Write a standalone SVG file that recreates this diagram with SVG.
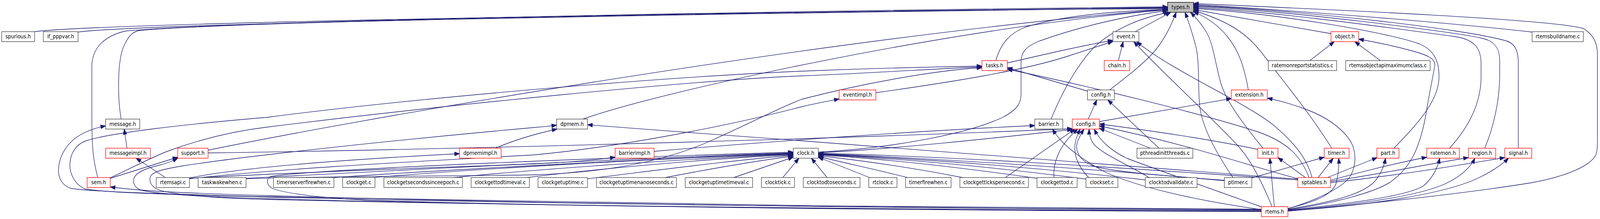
<svg xmlns="http://www.w3.org/2000/svg" width="4372" height="560" viewBox="0 0 4372 560">
<defs>
<style>
.node rect{fill:#ffffff;stroke:#404040;stroke-width:1.33}
.node.trunc rect{stroke:#ff0000}
.node.root rect{fill:#bfbfbf;stroke:#000000}
.node text{font-family:"DejaVu Sans","Liberation Sans",sans-serif;font-size:13.33px;fill:#000000;text-anchor:middle}
#edges path{fill:none;stroke:#191970;stroke-width:1.33;marker-end:url(#arr)}
</style>
<marker id="arr" markerUnits="userSpaceOnUse" markerWidth="16" markerHeight="12" refX="13.3" refY="4.65" orient="auto" overflow="visible"><path d="M0,0 L13.3,4.65 L0,9.3 z" fill="#191970" stroke="#191970" stroke-width="1.33"/></marker>
</defs>
<rect width="4372" height="560" fill="#ffffff"/>
<g id="diagram" transform="scale(0.936871 1)">
<g id="edges">
<path id="e_spurious_types" d="M94.5,81 C250,62 1500,38 3190.5,19"/>
<path id="e_ifpppvar_types" d="M213,82 C350,64 1500,40 3190.5,20.5"/>
<path id="e_sem_types" d="M267,454 C255,410 251,380 251,300 L251,170 C251,120 290,90 345,79 C700,50 2300,26 3190.5,17.5"/>
<path id="e_message_types" d="M331,304.5 C321,250 320,150 340,115 C350,95 360,82 380,78 C700,52 2300,27 3190.5,22"/>
<path id="e_support_types" d="M568.5,384 C900,320 2200,100 3190.5,23.5"/>
<path id="e_dpmem_types" d="M1593,304.5 C1800,235 2600,70 3190.5,25"/>
<path id="e_clock_types" d="M2236,389 C2450,378 2650,340 2740,300 C2785,278 2790,260 2790,240 L2790,160 C2790,135 2800,120 2840,105 C2950,68 3080,40 3190.5,27"/>
<path id="e_tasks_types" d="M2721,155 C2735,110 2760,85 2800,70 C2900,40 3050,28 3190.5,24"/>
<path id="e_barrier_types" d="M2872,304.5 C2900,240 2940,170 2990,120 C3050,70 3120,45 3194,31.5"/>
<path id="e_event_types" d="M3101.6,81 L3199,31.5"/>
<path id="e_config_types" d="M3032,230 C3080,195 3130,160 3160,125 C3185,95 3200,65 3214,31.5"/>
<path id="e_ptimer_types" d="M3369,454 C3330,400 3285,330 3278,270 C3273,220 3278,160 3268,120 C3258,85 3248,55 3238,31.5"/>
<path id="e_init_types" d="M3451,379 C3400,320 3350,260 3335,210 C3318,150 3315,110 3295,80 C3282,60 3268,45 3253,31.5"/>
<path id="e_extension_types" d="M3411,230 C3400,170 3385,130 3355,95 C3330,65 3300,45 3261.3,30"/>
<path id="e_timer_types" d="M3639,379 C3580,290 3500,200 3460,150 C3420,100 3380,60 3261.3,27"/>
<path id="e_object_types" d="M3637,86 L3261.3,24.5"/>
<path id="e_part_types" d="M3809,379 C3870,320 3930,260 3932,200 C3934,150 3912,125 3878,112 C3800,85 3500,35 3261.3,21.5"/>
<path id="e_ratemon_types" d="M3961,379 C4018,320 4046,260 4047,200 L4047,160 C4046,122 4028,100 3972,93 C3880,82 3500,30 3261.3,19"/>
<path id="e_region_types" d="M4057,379 C4088,310 4098,240 4098,190 L4098,155 C4098,122 4082,104 4050,98 C3980,82 3500,25 3261.3,16.5"/>
<path id="e_signal_types" d="M4148.7,379 L4148.7,160 C4148.7,125 4136,108 4110,103 C4000,75 3600,30 3261.3,14"/>
<path id="e_rtemsbuildname_types" d="M4186.5,82 C3900,52 3500,25 3261.3,11.5"/>
<path id="e_rtems_types" d="M3519.2,540 C3750,520 4000,495 4180,468 C4290,450 4350,420 4361,395 C4365,385 4365,370 4365,350 L4365,140 C4365,110 4355,90 4327,73 C4250,50 3650,25 3261.3,9"/>
<path id="e_messageimpl_message" d="M347,379 L339.5,330"/>
<path id="e_rtemsapi_messageimpl" d="M451.6,454 L372,404.5"/>
<path id="e_sem_support" d="M301.2,456 L485.6,402"/>
<path id="e_rtems_support" d="M3446.6,541 C2600,539 1500,528 730,508 C560,503 420,496 385,486 C368,480 362,468 366,456 C372,440 400,430 433,423 C455,418 470,412 485.6,404.5"/>
<path id="e_rtems_message" d="M3446.6,535 C2600,532 1500,520 730,503 C450,496 250,490 195,482 C170,475 158,455 160,430 C163,395 185,362 225,342 C245,332 265,326 288.7,322"/>
<path id="e_rtems_sem" d="M3446.6,537 C2600,534 1500,522 730,500 C500,494 380,488 301.2,478"/>
<path id="e_rtems_tasks" d="M3446.6,536 C2600,533 1500,522 730,504 C500,498 300,494 232,483 C205,472 190,445 191,420 C192,395 205,370 235,360 C300,340 500,318 730,300 C1100,255 1750,200 2190,182 C2400,174 2550,171 2683,169"/>
<path id="e_sem_tasks" d="M301.2,455 C380,420 420,400 460,386 C550,355 640,335 730,325 C1200,270 1900,205 2190,194 C2400,186 2550,176 2683,171"/>
<path id="e_rtems_dpmem" d="M3446.6,539 C2600,537 1500,527 730,510 C560,506 460,496 430,484 C412,476 406,462 412,450 C420,438 450,432 500,424 C700,395 1150,352 1460,326 C1490,324 1505,322 1521,320"/>
<path id="e_dpmemimpl_dpmem" d="M1354,379 C1400,360 1450,345 1522,330"/>
<path id="e_rtemsapi_dpmemimpl" d="M517.7,455 C650,430 900,410 1255.7,393"/>
<path id="e_sptables_dpmem" d="M3546.2,458 C3200,430 2700,395 2190,360 C2000,348 1800,333 1605.3,319"/>
<path id="e_rtemsapi_barrierimpl" d="M517.7,456 C800,440 1300,425 1460,419 C1560,415 1620,410 1681,402"/>
<path id="e_barrierimpl_barrier" d="M1787.3,387 C2100,362 2500,335 2827.5,321"/>
<path id="e_rtemsapi_eventimpl" d="M517.7,457 C800,428 1200,410 1460,396 C1700,375 2000,320 2190,273 C2230,264 2260,259 2293,253"/>
<path id="e_eventimpl_event" d="M2393.5,237 C2600,210 2800,180 2920,143 C2970,128 3010,115 3041,106"/>
<path id="e_taskwakewhen_tasks" d="M672.3,457 C900,450 1300,450 1460,447 C1700,440 1850,400 1949,357 C2050,315 2120,280 2190,254 C2350,215 2550,180 2683,173"/>
<path id="e_tasks_event" d="M2752.5,161 C2850,140 2950,118 3041,103"/>
<path id="e_chain_event" d="M3056,155 L3069,106.5"/>
<path id="e_rtems_event" d="M3476,528.5 C3450,470 3420,410 3380,370 C3300,290 3170,180 3098,106.5"/>
<path id="e_sptables_event" d="M3585,454 C3570,400 3530,360 3480,320 C3400,260 3200,180 3106,106.5"/>
<path id="e_config_tasks" d="M2971.5,233 L2752.5,173"/>
<path id="e_sptables_tasks" d="M3577,454 C3555,400 3520,365 3440,338 C3300,295 3000,225 2752.5,177"/>
<path id="e_configred_config" d="M2973.5,304.5 L2997,255.5"/>
<path id="e_pthreadinitthreads_config" d="M3167,379 L3027,255.5"/>
<path id="e_configred_extension" d="M3004,311 L3364.6,252"/>
<path id="e_rtems_extension" d="M3519.2,534 C3600,510 3670,480 3690,450 C3705,425 3706,395 3695,370 C3680,340 3640,305 3570,280 C3530,266 3500,258 3463,251"/>
<path id="e_support_configred" d="M568.5,391 C1200,383 2300,355 2930,329"/>
<path id="e_clock_configred" d="M2236,391 C2450,380 2700,355 2930,331"/>
<path id="e_clockgettickspersecond_configred" d="M2747,454 L2937,330"/>
<path id="e_clockgettod_configred" d="M2880,454 C2877,420 2890,375 2945,330"/>
<path id="e_clockset_configred" d="M2975,454 C2935,415 2925,375 2952,330"/>
<path id="e_ptimer_configred" d="M3345.6,461 C3200,450 3040,440 2990,425 C2950,412 2935,385 2945,360 C2950,350 2955,340 2962,330"/>
<path id="e_clocktodvalidate_configred" d="M3140,454 C3080,420 3015,395 2990,370 C2980,358 2976,345 2976,330"/>
<path id="e_rtems_configred" d="M3447,529 C3300,480 3150,430 3080,405 C3040,388 3005,360 2990,330"/>
<path id="e_pthreadinitthreads_configred" d="M3143.5,379 L3004,328"/>
<path id="e_init_configred" d="M3436.8,382 C3300,355 3150,335 3004,317"/>
<path id="e_sptables_configred" d="M3546.2,457 C3400,420 3250,370 3004,322"/>
<path id="e_rtems_barrier" d="M3446.6,536 C3250,510 3100,475 3020,440 C2960,410 2920,380 2900,360 C2890,350 2882,340 2876,330"/>
<path id="e_taskwakewhen_clock" d="M672.3,456 C1000,440 1700,405 2167.5,391"/>
<path id="e_timerserverfirewhen_clock" d="M912.5,454 C1200,435 1800,405 2167.5,392"/>
<path id="e_clockget_clock" d="M1020,454 C1300,432 1800,405 2167.5,393"/>
<path id="e_clockgetsecondssinceepoch_clock" d="M1240,454 C1500,430 1900,405 2167.5,394"/>
<path id="e_clockgettodtimeval_clock" d="M1440,454 C1650,430 1950,405 2167.5,395.5"/>
<path id="e_clockgetuptime_clock" d="M1605.3,457 C1800,435 2000,410 2167.5,397"/>
<path id="e_clockgetuptimenanoseconds_clock" d="M1818,454 C1950,430 2080,410 2167.5,399"/>
<path id="e_clockgetuptimetimeval_clock" d="M2005,454 L2167.5,402"/>
<path id="e_clocktick_clock" d="M2139,454 L2183,404.5"/>
<path id="e_clocktodtoseconds_clock" d="M2260,454 L2217,404.5"/>
<path id="e_rtclock_clock" d="M2376,454 L2236,402"/>
<path id="e_timerfirewhen_clock" d="M2480,454 C2400,435 2300,415 2236,400"/>
<path id="e_clockgettickspersecond_clock" d="M2630,454 C2500,430 2350,410 2236,398"/>
<path id="e_clockgettod_clock" d="M2834,456 C2600,425 2400,405 2236,396"/>
<path id="e_clockset_clock" d="M2967.5,458 C2700,425 2450,405 2236,395"/>
<path id="e_clocktodvalidate_clock" d="M3129.5,460 C2800,425 2500,405 2236,394"/>
<path id="e_ptimer_clock" d="M3345.6,462 C2900,425 2550,405 2236,393"/>
<path id="e_sptables_clock" d="M3546.2,460 C3000,425 2600,400 2236,392"/>
<path id="e_rtems_clock" d="M3446.6,540 C2600,538 1500,528 1000,512 C880,506 780,495 745,482 C728,474 726,458 740,451 C900,430 1700,402 2167.5,389"/>
<path id="e_ptimer_timer" d="M3420.5,455 L3618.4,402"/>
<path id="e_sptables_init" d="M3567,454 L3492,403"/>
<path id="e_sptables_timer" d="M3602,454 L3643,404.5"/>
<path id="e_sptables_part" d="M3627,454 L3763,403"/>
<path id="e_sptables_ratemon" d="M3635.6,461 C3720,440 3800,420 3898.7,402"/>
<path id="e_sptables_region" d="M3635.6,464 C3800,440 3900,420 4012.4,403"/>
<path id="e_sptables_signal" d="M3635.6,467 C3850,445 4000,420 4111.9,403"/>
<path id="e_rtems_init" d="M3482,528.5 L3470,404.5"/>
<path id="e_rtems_timer" d="M3519.2,533 C3600,515 3645,495 3652,465 C3658,440 3659,420 3658,404.5"/>
<path id="e_rtems_part" d="M3519.2,535 C3650,515 3730,495 3760,460 C3775,440 3782,425 3786,404.5"/>
<path id="e_rtems_ratemon" d="M3519.2,537 C3700,520 3850,500 3890,475 C3915,455 3928,430 3934,404.5"/>
<path id="e_rtems_region" d="M3519.2,538 C3750,520 3900,495 3960,465 C4000,445 4020,425 4030,404.5"/>
<path id="e_rtems_signal" d="M3519.2,539 C3750,525 3950,495 4040,455 C4080,437 4105,420 4122,404.5"/>
<path id="e_rtems_object" d="M3519.2,536 C3650,520 3760,490 3800,465 C3860,425 3880,370 3895,300 C3905,240 3915,200 3920,170 C3925,150 3900,140 3850,128 C3800,115 3760,108 3712.6,100"/>
<path id="e_ratemonreportstatistics_object" d="M3579,155 L3646,106.5"/>
<path id="e_rtemsobjectapimaximumclass_object" d="M3772,155 L3702,106.5"/>
</g>
<g id="n_types_h" class="node root"><rect x="3190.5" y="6" width="70.8" height="25.5"/><text x="3225.9" y="23.3">types.h</text></g>
<g id="n_spurious_h" class="node"><rect x="4.7" y="81" width="89.8" height="25.5"/><text x="49.6" y="98.3">spurious.h</text></g>
<g id="n_if_pppvar_h" class="node"><rect x="118.3" y="81" width="94.9" height="25.5"/><text x="165.75" y="98.3">if_pppvar.h</text></g>
<g id="n_event_h" class="node"><rect x="3041" y="81" width="71" height="25.5"/><text x="3076.5" y="98.3">event.h</text></g>
<g id="n_object_h" class="node trunc"><rect x="3637" y="81" width="75.6" height="25.5"/><text x="3674.8" y="98.3">object.h</text></g>
<g id="n_rtemsbuildname_c" class="node"><rect x="4186.5" y="81" width="140" height="25.5"/><text x="4256.5" y="98.3">rtemsbuildname.c</text></g>
<g id="n_tasks_h" class="node trunc"><rect x="2683" y="155" width="69.5" height="25.5"/><text x="2717.75" y="172.3">tasks.h</text></g>
<g id="n_chain_h" class="node trunc"><rect x="3017.3" y="155" width="69.8" height="25.5"/><text x="3052.2" y="172.3">chain.h</text></g>
<g id="n_ratemonreportstatistics_c" class="node"><rect x="3465.7" y="155" width="186.6" height="25.5"/><text x="3559" y="172.3">ratemonreportstatistics.c</text></g>
<g id="n_rtemsobjectapimaximumclass_c" class="node"><rect x="3677.2" y="155" width="230.7" height="25.5"/><text x="3792.55" y="172.3">rtemsobjectapimaximumclass.c</text></g>
<g id="n_eventimpl_h" class="node trunc"><rect x="2293" y="230" width="100.5" height="25.5"/><text x="2343.25" y="247.3">eventimpl.h</text></g>
<g id="n_rtems_config_h" class="node"><rect x="2971.5" y="230" width="73.5" height="25.5"/><text x="3008.25" y="247.3">config.h</text></g>
<g id="n_extension_h" class="node trunc"><rect x="3364.6" y="230" width="98.4" height="25.5"/><text x="3413.8" y="247.3">extension.h</text></g>
<g id="n_message_h" class="node"><rect x="288.7" y="304.5" width="93.1" height="25.5"/><text x="335.25" y="321.8">message.h</text></g>
<g id="n_dpmem_h" class="node"><rect x="1521" y="304.5" width="84.3" height="25.5"/><text x="1563.15" y="321.8">dpmem.h</text></g>
<g id="n_barrier_h" class="node"><rect x="2827.5" y="304.5" width="76.5" height="25.5"/><text x="2865.75" y="321.8">barrier.h</text></g>
<g id="n_config_h" class="node trunc"><rect x="2930" y="304.5" width="74" height="25.5"/><text x="2967" y="321.8">config.h</text></g>
<g id="n_messageimpl_h" class="node trunc"><rect x="288.7" y="379" width="122.4" height="25.5"/><text x="349.9" y="396.3">messageimpl.h</text></g>
<g id="n_support_h" class="node trunc"><rect x="485.6" y="379" width="82.9" height="25.5"/><text x="527.05" y="396.3">support.h</text></g>
<g id="n_dpmemimpl_h" class="node trunc"><rect x="1255.7" y="379" width="113.6" height="25.5"/><text x="1312.5" y="396.3">dpmemimpl.h</text></g>
<g id="n_barrierimpl_h" class="node trunc"><rect x="1680.7" y="379" width="106.6" height="25.5"/><text x="1734" y="396.3">barrierimpl.h</text></g>
<g id="n_clock_h" class="node"><rect x="2167.5" y="379" width="68.5" height="25.5"/><text x="2201.75" y="396.3">clock.h</text></g>
<g id="n_pthreadinitthreads_c" class="node"><rect x="3106.7" y="379" width="152.7" height="25.5"/><text x="3183.05" y="396.3">pthreadinitthreads.c</text></g>
<g id="n_init_h" class="node trunc"><rect x="3436.8" y="379" width="55.2" height="25.5"/><text x="3464.4" y="396.3">init.h</text></g>
<g id="n_timer_h" class="node trunc"><rect x="3618.4" y="379" width="68" height="25.5"/><text x="3652.4" y="396.3">timer.h</text></g>
<g id="n_part_h" class="node trunc"><rect x="3762.4" y="379" width="60.3" height="25.5"/><text x="3792.55" y="396.3">part.h</text></g>
<g id="n_ratemon_h" class="node trunc"><rect x="3898.7" y="379" width="89.3" height="25.5"/><text x="3943.35" y="396.3">ratemon.h</text></g>
<g id="n_region_h" class="node trunc"><rect x="4012.4" y="379" width="74.6" height="25.5"/><text x="4049.7" y="396.3">region.h</text></g>
<g id="n_signal_h" class="node trunc"><rect x="4111.9" y="379" width="73.7" height="25.5"/><text x="4148.75" y="396.3">signal.h</text></g>
<g id="n_sem_h" class="node trunc"><rect x="238" y="454" width="63.2" height="25.5"/><text x="269.6" y="471.3">sem.h</text></g>
<g id="n_rtemsapi_c" class="node"><rect x="427" y="454" width="90.7" height="25.5"/><text x="472.35" y="471.3">rtemsapi.c</text></g>
<g id="n_taskwakewhen_c" class="node"><rect x="541.5" y="454" width="130.8" height="25.5"/><text x="606.9" y="471.3">taskwakewhen.c</text></g>
<g id="n_timerserverfirewhen_c" class="node"><rect x="747.2" y="454" width="165.3" height="25.5"/><text x="829.85" y="471.3">timerserverfirewhen.c</text></g>
<g id="n_clockget_c" class="node"><rect x="936.3" y="454" width="88.4" height="25.5"/><text x="980.5" y="471.3">clockget.c</text></g>
<g id="n_clockgetsecondssinceepoch_c" class="node"><rect x="1049" y="454" width="214.6" height="25.5"/><text x="1156.3" y="471.3">clockgetsecondssinceepoch.c</text></g>
<g id="n_clockgettodtimeval_c" class="node"><rect x="1287.3" y="454" width="159.3" height="25.5"/><text x="1366.95" y="471.3">clockgettodtimeval.c</text></g>
<g id="n_clockgetuptime_c" class="node"><rect x="1470.2" y="454" width="135.1" height="25.5"/><text x="1537.75" y="471.3">clockgetuptime.c</text></g>
<g id="n_clockgetuptimenanoseconds_c" class="node"><rect x="1630" y="454" width="218.3" height="25.5"/><text x="1739.15" y="471.3">clockgetuptimenanoseconds.c</text></g>
<g id="n_clockgetuptimetimeval_c" class="node"><rect x="1872.5" y="454" width="183.9" height="25.5"/><text x="1964.45" y="471.3">clockgetuptimetimeval.c</text></g>
<g id="n_clocktick_c" class="node"><rect x="2080.6" y="454" width="90.4" height="25.5"/><text x="2125.8" y="471.3">clocktick.c</text></g>
<g id="n_clocktodtoseconds_c" class="node"><rect x="2195" y="454" width="155" height="25.5"/><text x="2272.5" y="471.3">clocktodtoseconds.c</text></g>
<g id="n_rtclock_c" class="node"><rect x="2374" y="454" width="77" height="25.5"/><text x="2412.5" y="471.3">rtclock.c</text></g>
<g id="n_timerfirewhen_c" class="node"><rect x="2474.5" y="454" width="124.3" height="25.5"/><text x="2536.65" y="471.3">timerfirewhen.c</text></g>
<g id="n_clockgettickspersecond_c" class="node"><rect x="2623" y="454" width="187.2" height="25.5"/><text x="2716.6" y="471.3">clockgettickspersecond.c</text></g>
<g id="n_clockgettod_c" class="node"><rect x="2833.5" y="454" width="109.8" height="25.5"/><text x="2888.4" y="471.3">clockgettod.c</text></g>
<g id="n_clockset_c" class="node"><rect x="2967.5" y="454" width="87.1" height="25.5"/><text x="3011.05" y="471.3">clockset.c</text></g>
<g id="n_clocktodvalidate_c" class="node"><rect x="3129.5" y="454" width="141.5" height="25.5"/><text x="3200.25" y="471.3">clocktodvalidate.c</text></g>
<g id="n_ptimer_c" class="node"><rect x="3345.6" y="454" width="74.9" height="25.5"/><text x="3383.05" y="471.3">ptimer.c</text></g>
<g id="n_sptables_h" class="node trunc"><rect x="3546.2" y="454" width="89.4" height="25.5"/><text x="3590.9" y="471.3">sptables.h</text></g>
<g id="n_rtems_h" class="node trunc"><rect x="3446.6" y="528.5" width="72.6" height="25.5"/><text x="3482.9" y="545.8">rtems.h</text></g>
</g>
</svg>
